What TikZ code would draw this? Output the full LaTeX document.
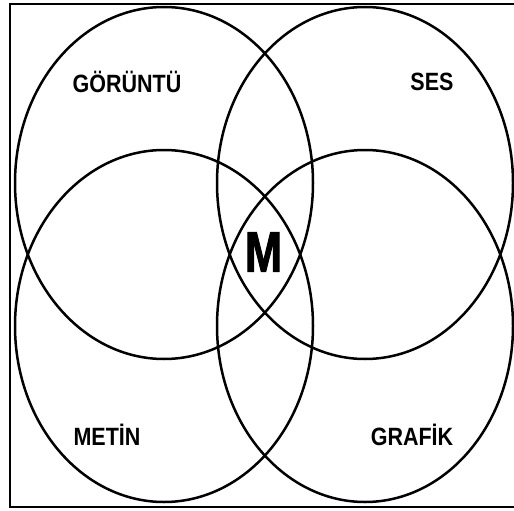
\documentclass[tikz,border=0pt]{standalone}
\usepackage{fontspec}
\setmainfont{Liberation Sans}[FakeStretch=0.86]
\newfontfamily\heavyfont{Liberation Sans Bold}[FakeStretch=0.78,FakeBold=1.6]

\begin{document}
\begin{tikzpicture}[
  x=1pt,y=-1pt,
  ring/.style={draw=black,line width=2.5pt},
  frame/.style={draw=black,line width=2.3pt},
  lbl/.style={font=\fontsize{25}{25}\selectfont\bfseries,inner sep=0pt},
  core/.style={font=\fontsize{57}{57}\selectfont\heavyfont,inner sep=0pt},
]
\useasboundingbox (0,0) rectangle (514,511);
\clip (0,0) rectangle (514,511);

% ---- frame (right side cut off) -------------------------------------------
\draw[frame] (10,4) rectangle (520,507);

% ---- four overlapping ellipses --------------------------------------------
\draw[ring] (164,183) ellipse [x radius=149pt,y radius=176pt];
\draw[ring] (365,183) ellipse [x radius=148pt,y radius=176pt];
\draw[ring] (164,326) ellipse [x radius=149pt,y radius=176pt];
\draw[ring] (365,326) ellipse [x radius=148pt,y radius=176pt];

% ---- labels ---------------------------------------------------------------
\node[lbl] (gor) at (127,82)  {GÖRÜNTÜ};
\node[lbl] (ses) at (432,82)  {SES};
\node[lbl] (met) at (107,435) {METİN};
\node[lbl] (gra) at (412,435) {GRAFİK};
\node[core] (mm) at (263.5,252) {M};

\end{tikzpicture}
\end{document}
